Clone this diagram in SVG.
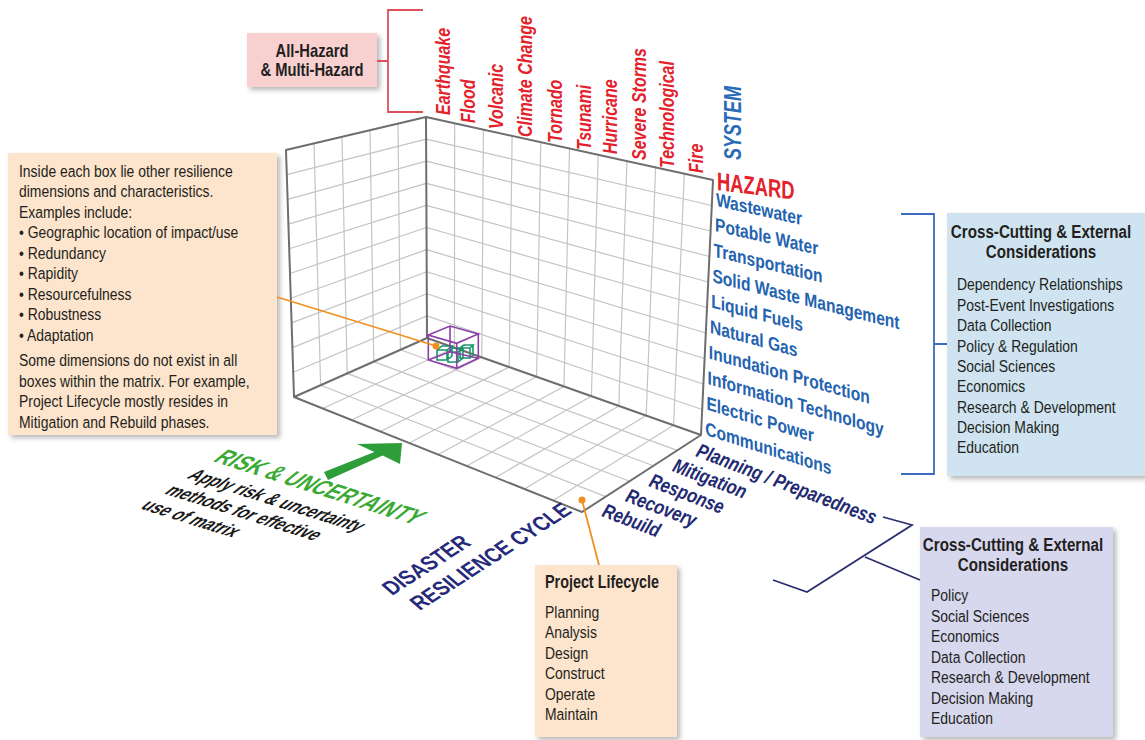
<svg xmlns="http://www.w3.org/2000/svg" width="1145" height="740" viewBox="0 0 1145 740">
<defs>
<filter id="sh" x="-10%" y="-10%" width="125%" height="125%"><feDropShadow dx="3" dy="3" stdDeviation="2.5" flood-color="#000" flood-opacity="0.28"/></filter>
<style>
text{font-family:'Liberation Sans',Arial,sans-serif;}
.g{stroke:#c4c4c4;stroke-width:1.2;fill:none}
.e{stroke:#6e6e6e;stroke-width:2;fill:none;stroke-linejoin:round}
.hz{fill:#e3222b;font-size:19.5px;font-weight:bold;font-style:italic}
.sy{fill:#2363b0;font-size:19px;font-weight:bold}
.cy{fill:#232a72;font-size:20px;font-weight:bold;font-style:italic}
.bx{font-size:17px;fill:#231f20}
.bt{font-size:18.5px;font-weight:bold;fill:#231f20}
</style>
</defs>
<rect width="1145" height="740" fill="#fff"/>

<g id="matrix">
<path class="g" d="M314,143.4L320.6,385.2M342,136.8L347.2,373.4M370,130.2L373.8,361.6M398,123.6L400.4,349.8
M286.8,174.7L426.1,139.1M287.6,199.4L426.2,161.2M288.4,224.1L426.3,183.3M289.2,248.8L426.4,205.4M290,273.5L426.5,227.5M290.8,298.2L426.6,249.6M291.6,322.9L426.7,271.7M292.4,347.6L426.8,293.8M293.2,372.3L426.9,315.9
M454.7,123.3L454.4,347.7M483.4,129.6L481.8,357.4M512.1,135.9L509.2,367.1M540.8,142.2L536.6,376.8M569.5,148.5L564,386.5M598.2,154.8L591.4,396.2M626.9,161.1L618.8,405.9M655.6,167.4L646.2,415.6M684.3,173.7L673.6,425.3
M426.1,139.1L711.8,205.5M426.2,161.2L710.6,231M426.3,183.3L709.4,256.5M426.4,205.4L708.2,282M426.5,227.5L707,307.5M426.6,249.6L705.8,333M426.7,271.7L704.6,358.5M426.8,293.8L703.4,384M426.9,315.9L702.2,409.5
M454.4,347.7L322.8,408.5M481.8,357.4L351.6,420M509.2,367.1L380.4,431.5M536.6,376.8L409.2,443M564,386.5L438,454.5M591.4,396.2L466.8,466M618.8,405.9L495.6,477.5M646.2,415.6L524.4,489M673.6,425.3L553.2,500.5
M400.4,349.8L677.2,450.4M373.8,361.6L653.4,465.8M347.2,373.4L629.6,481.2M320.6,385.2L605.8,496.6"/>
<path class="e" d="M286,150L426,117L713,180L701,435L582,512L294,397Z M426,117L427,338 M294,397L427,338L701,435"/>
<g id="cube" fill="none">
<path d="M437,350h10v10h-10z M437,350l5,-4h10l-5,4 M447,360l5,-4v-10 M448,352h10v10h-10z M448,352l5,-4h10l-5,4 M458,362l5,-4v-10 M460,348h10v10h-10z M460,348l4,-3h9l-3,3 M470,358l3,-3v-10" stroke="#17956b" stroke-width="1.6"/>
<path d="M428.3,335L450,326L478.3,334L456.7,343.3Z M428.3,335V360L456.7,368.3L478.3,358.3V334 M456.7,343.3V368.3 M450,326V351.7L428.3,360 M450,351.7L478.3,358.3" stroke="#8b3fa8" stroke-width="1.6"/>
</g>
</g>

<g id="hazard-labels">
<text class="hz" transform="translate(450,115) rotate(-90) scale(0.82,1)">Earthquake</text>
<text class="hz" transform="translate(475,123) rotate(-90) scale(0.82,1)">Flood</text>
<text class="hz" transform="translate(503,129) rotate(-90) scale(0.82,1)">Volcanic</text>
<text class="hz" transform="translate(532,137) rotate(-90) scale(0.82,1)">Climate Change</text>
<text class="hz" transform="translate(562,143) rotate(-90) scale(0.82,1)">Tornado</text>
<text class="hz" transform="translate(591,150) rotate(-90) scale(0.82,1)">Tsunami</text>
<text class="hz" transform="translate(617,154) rotate(-90) scale(0.82,1)">Hurricane</text>
<text class="hz" transform="translate(646,160) rotate(-90) scale(0.82,1)">Severe Storms</text>
<text class="hz" transform="translate(674,168) rotate(-90) scale(0.82,1)">Technological</text>
<text class="hz" transform="translate(703,173) rotate(-90) scale(0.82,1)">Fire</text>
<text transform="translate(741,160) rotate(-90) scale(0.75,1)" font-size="24" font-weight="bold" font-style="italic" fill="#2a6ab8">SYSTEM</text>
<text transform="translate(717,190) skewY(7) scale(0.72,1)" font-size="25.5" font-weight="bold" fill="#e3222b">HAZARD</text>
</g>

<g id="system-labels">
<text class="sy" transform="translate(716,206) skewY(12.5) scale(0.82,1)">Wastewater</text>
<text class="sy" transform="translate(715,231) skewY(13.1) scale(0.82,1)">Potable Water</text>
<text class="sy" transform="translate(713.6,256.5) skewY(13.6) scale(0.82,1)">Transportation</text>
<text class="sy" transform="translate(712.4,282) skewY(14.2) scale(0.82,1)">Solid Waste Management</text>
<text class="sy" transform="translate(711.2,307.5) skewY(14.7) scale(0.82,1)">Liquid Fuels</text>
<text class="sy" transform="translate(710,333) skewY(15.3) scale(0.82,1)">Natural Gas</text>
<text class="sy" transform="translate(708.8,358.5) skewY(15.8) scale(0.82,1)">Inundation Protection</text>
<text class="sy" transform="translate(707.6,384) skewY(16.4) scale(0.82,1)">Information Technology</text>
<text class="sy" transform="translate(706.4,409.5) skewY(16.9) scale(0.82,1)">Electric Power</text>
<text class="sy" transform="translate(705.2,435) skewY(17.5) scale(0.82,1)">Communications</text>
</g>

<g id="cycle-labels">
<text class="cy" transform="translate(695,456) rotate(21) scale(0.82,1)">Planning / Preparedness</text>
<text class="cy" transform="translate(671.5,471) rotate(21) scale(0.82,1)">Mitigation</text>
<text class="cy" transform="translate(648,486) rotate(21) scale(0.82,1)">Response</text>
<text class="cy" transform="translate(624.5,501) rotate(21) scale(0.82,1)">Recovery</text>
<text class="cy" transform="translate(601,516) rotate(21) scale(0.82,1)">Rebuild</text>
<g transform="matrix(0.689,-0.445,0.75,0.66,392,596)" fill="#262a7a" font-size="23" font-weight="bold">
<text x="0" y="0">DISASTER</text>
<text x="9" y="28.9">RESILIENCE CYCLE</text>
</g>
</g>

<g id="risk">
<path d="M324,472L374.4,451.9L357,444L402,443L400,464L382.6,455.5L328,480Z" fill="#2e9e3a"/>
<text transform="matrix(0.782,0.247,-0.9,0.72,212,461)" font-size="24" font-weight="bold" fill="#3aaa35">RISK &amp; UNCERTAINTY</text>
<g transform="matrix(0.782,0.247,-0.9,0.72,186,478)" font-size="19" font-weight="bold" fill="#1a1a1a">
<text x="0" y="0">Apply risk &amp; uncertainty</text>
<text x="-3" y="22.4">methods for effective</text>
<text x="-8" y="44.8">use of matrix</text>
</g>
</g>

<g id="all-hazard">
<rect x="247" y="33" width="130" height="54" fill="#f9d0d0" filter="url(#sh)"/>
<g transform="translate(312,0) scale(0.82,1)">
<text class="bt" x="0" y="57" text-anchor="middle" style="font-size:18px">All-Hazard</text>
<text class="bt" x="0" y="76.5" text-anchor="middle" style="font-size:18px">&amp; Multi-Hazard</text>
</g>
</g>

<g id="inside-box">
<rect x="8" y="153" width="269" height="282" fill="#fde4cc" filter="url(#sh)"/>
<g class="bx" transform="translate(19,0) scale(0.82,1)">
<text x="0" y="177">Inside each box lie other resilience</text>
<text x="0" y="197.5">dimensions and characteristics.</text>
<text x="0" y="218">Examples include:</text>
<text x="0" y="238.5">• Geographic location of impact/use</text>
<text x="0" y="259">• Redundancy</text>
<text x="0" y="279.5">• Rapidity</text>
<text x="0" y="300">• Resourcefulness</text>
<text x="0" y="320.5">• Robustness</text>
<text x="0" y="341">• Adaptation</text>
<text x="0" y="366.5">Some dimensions do not exist in all</text>
<text x="0" y="387">boxes within the matrix. For example,</text>
<text x="0" y="407.5">Project Lifecycle mostly resides in</text>
<text x="0" y="428">Mitigation and Rebuild phases.</text>
</g>
</g>

<g id="cross-cutting-system">
<rect x="947" y="213" width="198" height="263" fill="#cfe4f0" filter="url(#sh)"/>
<g transform="translate(1041,0) scale(0.82,1)">
<text class="bt" x="0" y="238" text-anchor="middle">Cross-Cutting &amp; External</text>
<text class="bt" x="0" y="258" text-anchor="middle">Considerations</text>
</g>
<g class="bx" transform="translate(957,0) scale(0.82,1)">
<text x="0" y="290.5">Dependency Relationships</text>
<text x="0" y="311">Post-Event Investigations</text>
<text x="0" y="331.5">Data Collection</text>
<text x="0" y="352">Policy &amp; Regulation</text>
<text x="0" y="372">Social Sciences</text>
<text x="0" y="392.5">Economics</text>
<text x="0" y="413">Research &amp; Development</text>
<text x="0" y="433.5">Decision Making</text>
<text x="0" y="453.5">Education</text>
</g>
</g>

<g id="project-lifecycle">
<rect x="535" y="565" width="142" height="172" fill="#fde4cc" filter="url(#sh)"/>
<g transform="translate(545,0) scale(0.82,1)">
<text class="bt" x="0" y="588" style="font-size:17.5px">Project Lifecycle</text>
<g class="bx">
<text x="0" y="618">Planning</text>
<text x="0" y="638.5">Analysis</text>
<text x="0" y="659">Design</text>
<text x="0" y="679.5">Construct</text>
<text x="0" y="700">Operate</text>
<text x="0" y="720.5">Maintain</text>
</g>
</g>
</g>

<g id="cross-cutting-cycle">
<rect x="920" y="527" width="193" height="210" fill="#d7d7ee" filter="url(#sh)"/>
<g transform="translate(1013,0) scale(0.82,1)">
<text class="bt" x="0" y="551.5" text-anchor="middle">Cross-Cutting &amp; External</text>
<text class="bt" x="0" y="571.5" text-anchor="middle">Considerations</text>
</g>
<g class="bx" transform="translate(931,0) scale(0.82,1)">
<text x="0" y="601.5">Policy</text>
<text x="0" y="622">Social Sciences</text>
<text x="0" y="642.5">Economics</text>
<text x="0" y="663">Data Collection</text>
<text x="0" y="683.5">Research &amp; Development</text>
<text x="0" y="704">Decision Making</text>
<text x="0" y="724.5">Education</text>
</g>
</g>

<g id="connectors" fill="none" stroke-width="1.8">
<path d="M377,61H388 M423,10H388V112H423" stroke="#e0505a"/>
<path d="M901,214H934V474H901 M934,344H947" stroke="#3a6bc0"/>
<path d="M883,517L912,525L807,592L773,580 M865,557L920,580" stroke="#2c2f6e"/>
<path d="M277,297L436,346" stroke="#f0901e"/>
<circle cx="436" cy="346" r="3.5" fill="#f0901e" stroke="none"/>
<path d="M582,500L599,565" stroke="#f0901e"/>
<circle cx="582" cy="500" r="3.5" fill="#f0901e" stroke="none"/>
</g>
</svg>
